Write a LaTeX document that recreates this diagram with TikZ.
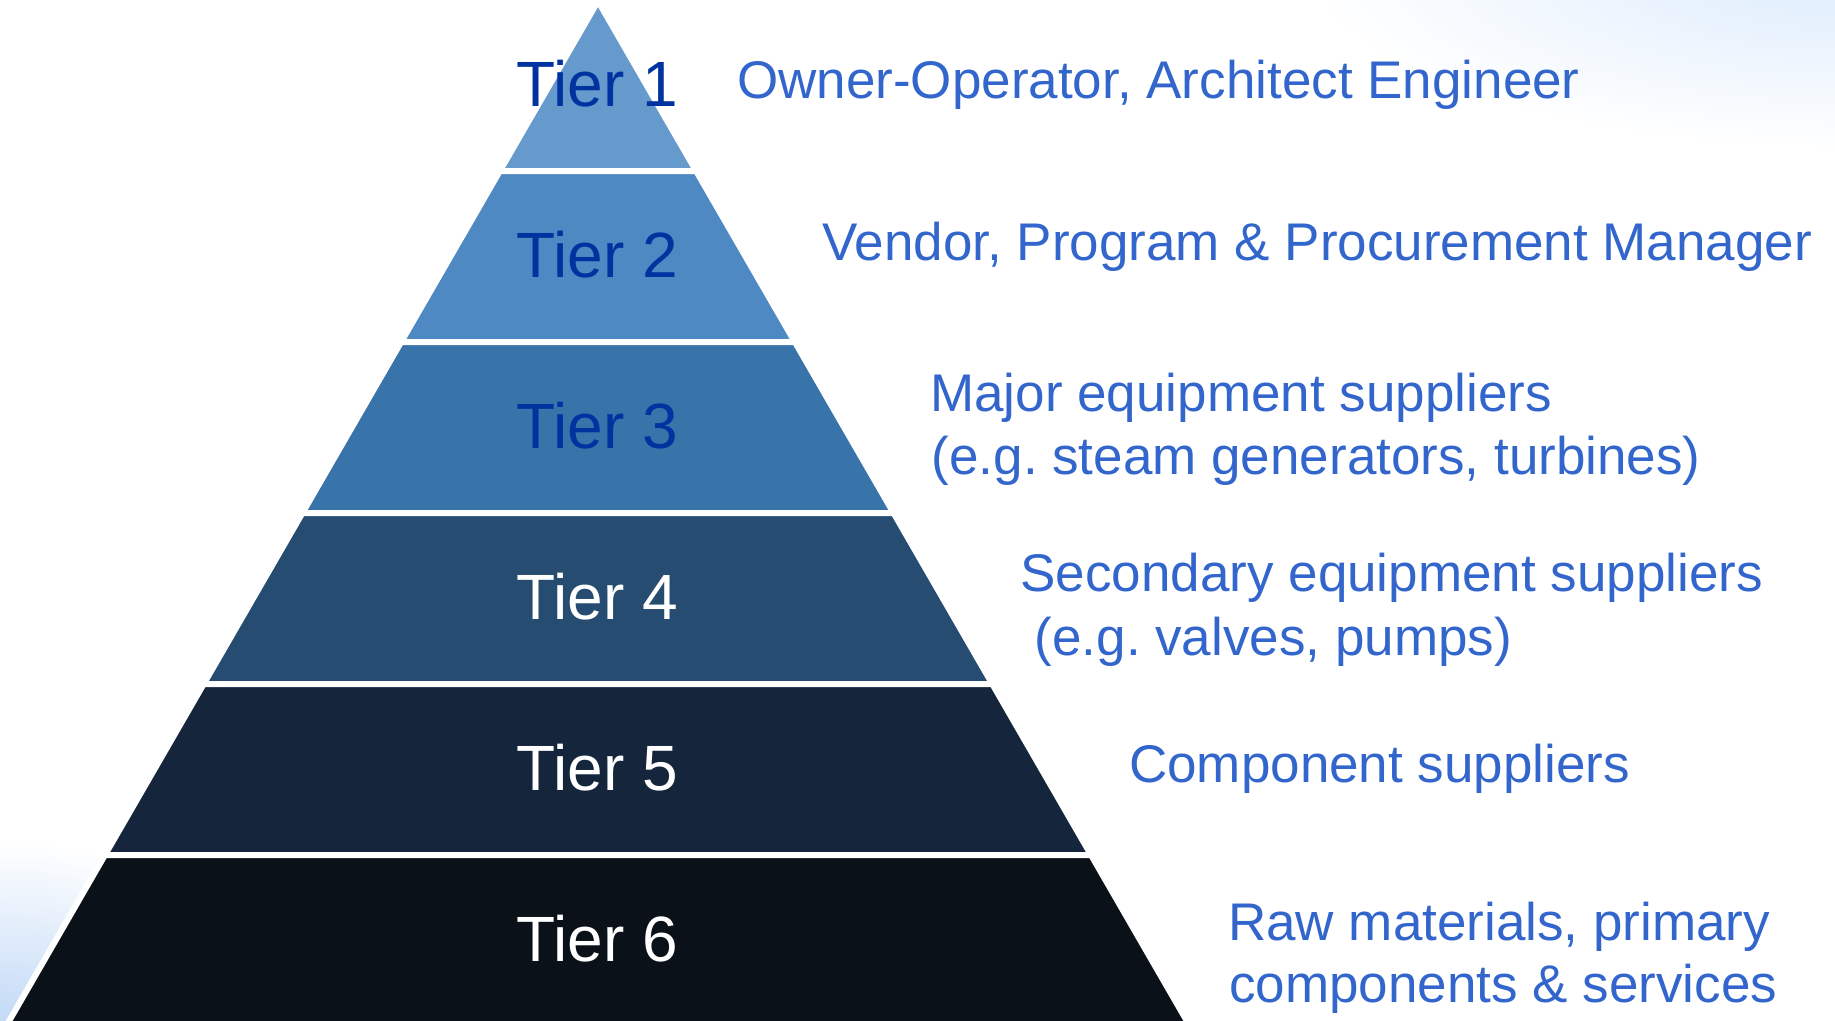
\documentclass[tikz,border=0pt]{standalone}
\usepackage{fontspec}
\setmainfont{Liberation Sans}
\frenchspacing
\definecolor{tA}{HTML}{6699CC}
\definecolor{tB}{HTML}{4F89C3}
\definecolor{tC}{HTML}{3873AA}
\definecolor{tD}{HTML}{264C71}
\definecolor{tE}{HTML}{15253B}
\definecolor{tF}{HTML}{0B1119}
\definecolor{tierdark}{HTML}{0033A0}
\definecolor{desc}{HTML}{3366CC}
\definecolor{glowTRc}{HTML}{DAEAFC}
\definecolor{glowBLc}{HTML}{C0D8F6}
\pgfdeclareradialshading{glowTR}{\pgfpoint{0bp}{0bp}}{color(0bp)=(glowTRc); color(25bp)=(white); color(50bp)=(white)}
\pgfdeclareradialshading{glowBL}{\pgfpoint{0bp}{0bp}}{color(0bp)=(glowBLc); color(25bp)=(white); color(50bp)=(white)}
\tikzset{
  tierbox/.style={draw=white, line width=6pt, line join=miter},
  tierlabel/.style={anchor=base, inner sep=0pt, font=\fontsize{64}{77}\selectfont},
  desclabel/.style={anchor=base west, inner sep=0pt, text=desc, font=\fontsize{53}{63}\selectfont}
}
\begin{document}
\begin{tikzpicture}[x=1pt,y=-1pt]
\useasboundingbox (0,0) rectangle (1835,1020);
\fill[white] (0,0) rectangle (1835,1020);
\begin{scope}
  \clip (0,0) rectangle (1835,1020);
  \shade[shading=glowTR] (1860,-40) ellipse [x radius=560, y radius=190];
  \shade[shading=glowBL] (0,1030) ellipse [x radius=280, y radius=190];
\end{scope}
% pyramid tiers
\fill[tierbox, fill=tA] (598,1) -- (696.15,171) -- (499.85,171) -- cycle;
\fill[tierbox, fill=tB] (499.85,171) -- (696.15,171) -- (794.88,342) -- (401.12,342) -- cycle;
\fill[tierbox, fill=tC] (401.12,342) -- (794.88,342) -- (893.60,513) -- (302.40,513) -- cycle;
\fill[tierbox, fill=tD] (302.40,513) -- (893.60,513) -- (992.33,684) -- (203.67,684) -- cycle;
\fill[tierbox, fill=tE] (203.67,684) -- (992.33,684) -- (1091.06,855) -- (104.94,855) -- cycle;
\fill[tierbox, fill=tF] (104.94,855) -- (1091.06,855) -- (1197.87,1040) -- (-1.87,1040) -- cycle;
% tier labels
\node[tierlabel, text=tierdark] (tier1) at (597.5,106) {Tier 1};
\node[tierlabel, text=tierdark] (tier2) at (597.5,277) {Tier 2};
\node[tierlabel, text=tierdark] (tier3) at (597.5,448) {Tier 3};
\node[tierlabel, text=white] (tier4) at (597.5,619) {Tier 4};
\node[tierlabel, text=white] (tier5) at (597.5,790) {Tier 5};
\node[tierlabel, text=white] (tier6) at (597.5,961) {Tier 6};
% descriptions
\node[desclabel] (d1) at (737,98) {Owner-Operator, Architect Engineer};
\node[desclabel] (d2) at (822,260) {Vendor, Program \& Procurement Manager};
\node[desclabel] (d3a) at (930,411) {Major equipment suppliers};
\node[desclabel] (d3b) at (931.5,474) {(e.g. steam generators, turbines)};
\node[desclabel] (d4a) at (1020.3,591) {Secondary equipment suppliers};
\node[desclabel] (d4b) at (1034.5,655) {(e.g. valves, pumps)};
\node[desclabel] (d5) at (1129,782) {Component suppliers};
\node[desclabel] (d6a) at (1228,940) {Raw materials, primary};
\node[desclabel] (d6b) at (1229,1002) {components \& services};
\end{tikzpicture}
\end{document}
